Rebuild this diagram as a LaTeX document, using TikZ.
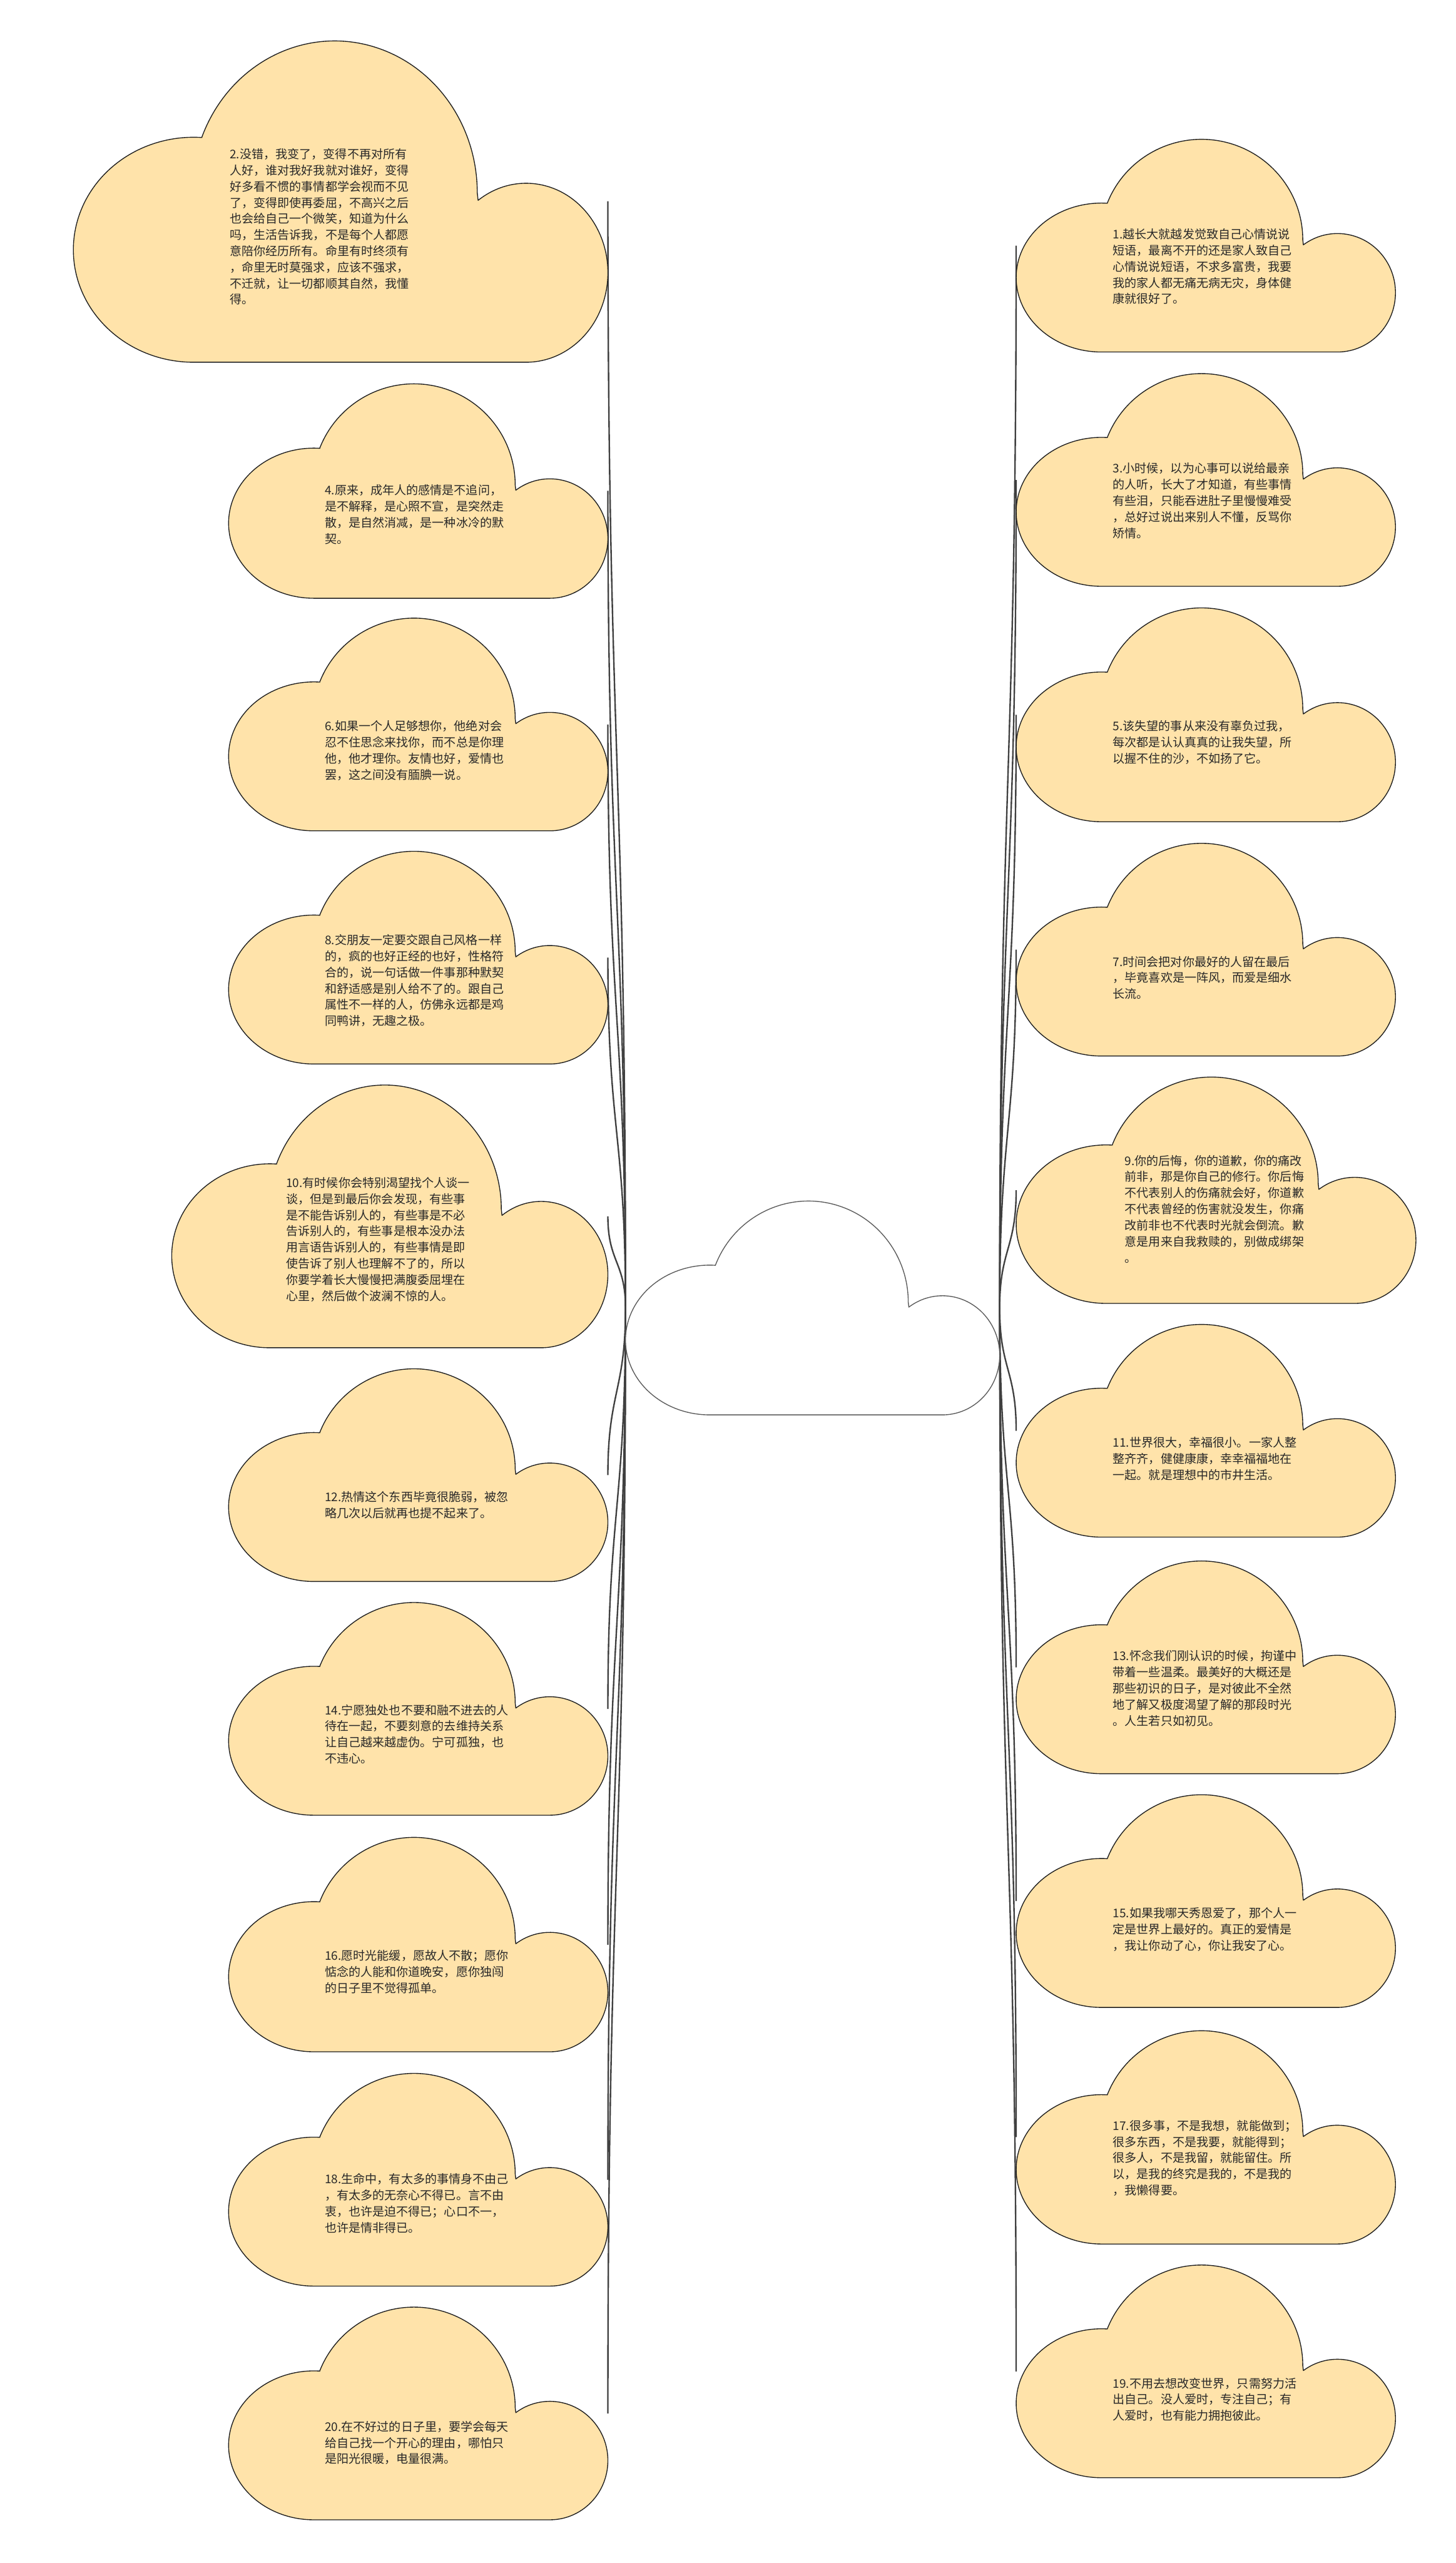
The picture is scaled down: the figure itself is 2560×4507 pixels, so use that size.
\documentclass[tikz,border=0pt]{standalone}
\usepackage{fontspec}
\newfontfamily\cjk{Noto Sans CJK SC}
\definecolor{cloudfill}{RGB}{255,227,170}
\definecolor{edgecol}{RGB}{30,30,30}
\definecolor{linkcol}{RGB}{64,64,64}
\definecolor{txtcol}{RGB}{40,40,40}
\definecolor{centeredge}{RGB}{90,90,90}
\tikzset{
 cloudbody/.style={fill=cloudfill, draw=edgecol, line width=1.5pt, line join=round},
 centerbody/.style={fill=white, draw=centeredge, line width=1.5pt, line join=round},
 conn/.style={draw=linkcol, line width=2.6pt},
 cloudtext/.style={anchor=north west, inner sep=0pt, align=left, text=txtcol, font=\cjk\fontsize{21}{28.4}\selectfont},
}
% cloud: #1 left, #2 top, #3 width, #4 height (pixels, y downwards), #5 style
\newcommand\mycloud[5]{%
 \pgfmathsetmacro\cldSx{#3/667}%
 \pgfmathsetmacro\cldSy{#4/377}%
 \pgfmathsetmacro\cldBrx{178*\cldSx}%
 \pgfmathsetmacro\cldBry{178*\cldSy}%
 \pgfmathsetmacro\cldBcx{#1+326*\cldSx}%
 \pgfmathsetmacro\cldBcy{-(#2+\cldBry)}%
 \pgfmathsetmacro\cldAx{\cldBcx+\cldBrx*cos(158.6)}%
 \pgfmathsetmacro\cldAy{\cldBcy+\cldBry*sin(158.6)}%
 \pgfmathsetmacro\cldRrx{102*\cldSx}%
 \pgfmathsetmacro\cldRry{105*\cldSy}%
 \pgfmathsetmacro\cldRcx{#1+565*\cldSx}%
 \pgfmathsetmacro\cldRcy{-(#2+272*\cldSy)}%
 \pgfmathsetmacro\cldQx{\cldRcx+\cldRrx*cos(126)}%
 \pgfmathsetmacro\cldQy{\cldRcy+\cldRry*sin(126)}%
 \pgfmathsetmacro\cldLrx{150*\cldSx}%
 \pgfmathsetmacro\cldLry{132*\cldSy}%
 \pgfmathsetmacro\cldLcx{#1+\cldLrx}%
 \pgfmathsetmacro\cldBot{-(#2+#4)}%
 \path[#5] (\cldAx,\cldAy) arc[start angle=158.6, end angle=0, x radius=\cldBrx, y radius=\cldBry]
   -- (\cldQx,\cldQy) arc[start angle=126, end angle=-90, x radius=\cldRrx, y radius=\cldRry]
   -- (\cldLcx,\cldBot) arc[start angle=270, end angle=86, x radius=\cldLrx, y radius=\cldLry] -- cycle;
}
\begin{document}
\begin{tikzpicture}[x=1pt,y=1pt]
\fill[white] (0,0) rectangle (2560,-4507);
\useasboundingbox (0,0) rectangle (2560,-4507);

% connection points and connectors
\coordinate (cL) at (1100,-2300);
\coordinate (cR) at (1758,-2300);
\foreach \n/\m in {2/354,4/863,6/1274,8/1684,10/2139,12/2594,14/3005,16/3420,18/3833,20/4244}{
  \coordinate (a\n) at (1069,-\m);
  \pgfmathsetmacro\dd{(2300-\m)/2}
  \pgfmathsetmacro\ddn{(\m-2300)/2}
  \draw[conn] (cL) .. controls +(0,\dd) and +(0,\ddn) .. (a\n);
}
\foreach \n/\m in {1/432,3/844,5/1257,7/1670,9/2093,11/2516,13/2932,15/3343,17/3758,19/4170}{
  \coordinate (a\n) at (1787,-\m);
  \pgfmathsetmacro\dd{(2300-\m)/2}
  \pgfmathsetmacro\ddn{(\m-2300)/2}
  \draw[conn] (cR) .. controls +(0,\dd) and +(0,\ddn) .. (a\n);
}

% clouds: L / T / W / H
\foreach \L/\T/\W/\H in {129/72/940/565, 402/675/667/377, 402/1087/667/374, 402/1497/667/374,
  302/1908/767/462, 402/2407/667/374, 402/2818/667/374, 402/3231/667/377, 402/3646/667/374, 402/4057/667/374,
  1787/245/667/374, 1787/657/667/374, 1787/1069/667/376, 1787/1483/667/374, 1787/1894/703/398,
  1787/2329/667/374, 1787/2745/667/374, 1787/3156/667/374, 1787/3571/667/375, 1787/3983/667/374}
  {\mycloud{\L}{\T}{\W}{\H}{cloudbody}}

% centre cloud
\mycloud{1100}{2112}{658}{376}{centerbody}
\node[inner sep=0pt] (c0) at (1429,-2330) {};

% texts
\node[cloudtext] (t2) at (404,-261) {2.没错，我变了，变得不再对所有\\人好，谁对我好我就对谁好，变得\\好多看不惯的事情都学会视而不见\\了，变得即使再委屈，不高兴之后\\也会给自己一个微笑，知道为什么\\吗，生活告诉我，不是每个人都愿\\意陪你经历所有。命里有时终须有\\，命里无时莫强求，应该不强求，\\不迁就，让一切都顺其自然，我懂\\得。};
\node[cloudtext] (t4) at (571,-852) {4.原来，成年人的感情是不追问，\\是不解释，是心照不宣，是突然走\\散，是自然消减，是一种冰冷的默\\契。};
\node[cloudtext] (t6) at (571,-1267) {6.如果一个人足够想你，他绝对会\\忍不住思念来找你，而不总是你理\\他，他才理你。友情也好，爱情也\\罢，这之间没有腼腆一说。};
\node[cloudtext] (t8) at (571,-1643) {8.交朋友一定要交跟自己风格一样\\的，疯的也好正经的也好，性格符\\合的，说一句话做一件事那种默契\\和舒适感是别人给不了的。跟自己\\属性不一样的人，仿佛永远都是鸡\\同鸭讲，无趣之极。};
\node[cloudtext] (t10) at (503,-2070) {10.有时候你会特别渴望找个人谈一\\谈，但是到最后你会发现，有些事\\是不能告诉别人的，有些事是不必\\告诉别人的，有些事是根本没办法\\用言语告诉别人的，有些事情是即\\使告诉了别人也理解不了的，所以\\你要学着长大慢慢把满腹委屈埋在\\心里，然后做个波澜不惊的人。};
\node[cloudtext] (t12) at (571,-2622) {12.热情这个东西毕竟很脆弱，被忽\\略几次以后就再也提不起来了。};
\node[cloudtext] (t14) at (571,-2997) {14.宁愿独处也不要和融不进去的人\\待在一起，不要刻意的去维持关系\\让自己越来越虚伪。宁可孤独，也\\不违心。};
\node[cloudtext] (t16) at (571,-3429) {16.愿时光能缓，愿故人不散；愿你\\惦念的人能和你道晚安，愿你独闯\\的日子里不觉得孤单。};
\node[cloudtext] (t18) at (571,-3822) {18.生命中，有太多的事情身不由己\\，有太多的无奈心不得已。言不由\\衷，也许是迫不得已；心口不一，\\也许是情非得已。};
\node[cloudtext] (t20) at (571,-4257) {20.在不好过的日子里，要学会每天\\给自己找一个开心的理由，哪怕只\\是阳光很暖，电量很满。};

\node[cloudtext] (t1) at (1957,-402) {1.越长大就越发觉致自己心情说说\\短语，最离不开的还是家人致自己\\心情说说短语，不求多富贵，我要\\我的家人都无痛无病无灾，身体健\\康就很好了。};
\node[cloudtext] (t3) at (1957,-814) {3.小时候，以为心事可以说给最亲\\的人听，长大了才知道，有些事情\\有些泪，只能吞进肚子里慢慢难受\\，总好过说出来别人不懂，反骂你\\矫情。};
\node[cloudtext] (t5) at (1957,-1267) {5.该失望的事从来没有辜负过我，\\每次都是认认真真的让我失望，所\\以握不住的沙，不如扬了它。};
\node[cloudtext] (t7) at (1957,-1681) {7.时间会把对你最好的人留在最后\\，毕竟喜欢是一阵风，而爱是细水\\长流。};
\node[cloudtext] (t9) at (1978,-2031) {9.你的后悔，你的道歉，你的痛改\\前非，那是你自己的修行。你后悔\\不代表别人的伤痛就会好，你道歉\\不代表曾经的伤害就没发生，你痛\\改前非也不代表时光就会倒流。歉\\意是用来自我救赎的，别做成绑架\\。};
\node[cloudtext] (t11) at (1957,-2527) {11.世界很大，幸福很小。一家人整\\整齐齐，健健康康，幸幸福福地在\\一起。就是理想中的市井生活。};
\node[cloudtext] (t13) at (1957,-2902) {13.怀念我们刚认识的时候，拘谨中\\带着一些温柔。最美好的大概还是\\那些初识的日子，是对彼此不全然\\地了解又极度渴望了解的那段时光\\。人生若只如初见。};
\node[cloudtext] (t15) at (1957,-3354) {15.如果我哪天秀恩爱了，那个人一\\定是世界上最好的。真正的爱情是\\，我让你动了心，你让我安了心。};
\node[cloudtext] (t17) at (1957,-3728) {17.很多事，不是我想，就能做到；\\很多东西，不是我要，就能得到；\\很多人，不是我留，就能留住。所\\以，是我的终究是我的，不是我的\\，我懒得要。};
\node[cloudtext] (t19) at (1957,-4181) {19.不用去想改变世界，只需努力活\\出自己。没人爱时，专注自己；有\\人爱时，也有能力拥抱彼此。};
\end{tikzpicture}
\end{document}
